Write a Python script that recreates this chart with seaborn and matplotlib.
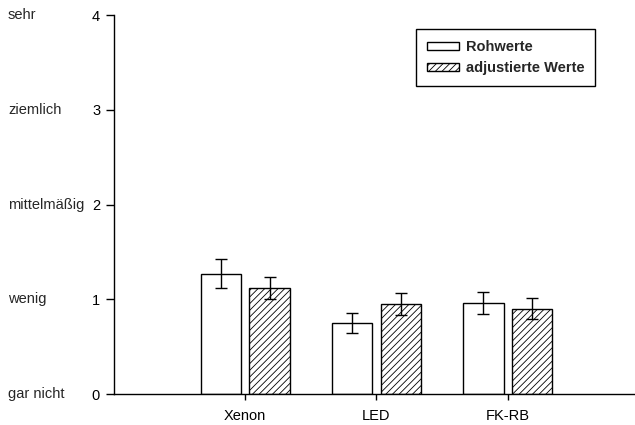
import matplotlib
matplotlib.use("Agg")
import matplotlib.pyplot as plt
import matplotlib.transforms as mtransforms
import numpy as np
import pandas as pd
import seaborn as sns

# values
lamps = ["Xenon", "LED", "FK-RB"]
series = ["Rohwerte", "adjustierte Werte"]
raw_values = [1.27, 0.75, 0.96]
raw_errors = [0.15, 0.11, 0.12]
adj_values = [1.12, 0.95, 0.90]
adj_errors = [0.12, 0.12, 0.11]
y_ticks = [0, 1, 2, 3, 4]
y_words = ["gar nicht", "wenig", "mittelmäßig", "ziemlich", "sehr"]

df = pd.DataFrame({
    "Lampe": lamps * 2,
    "Serie": [series[0]] * 3 + [series[1]] * 3,
    "Wert": raw_values + adj_values,
    "Fehler": raw_errors + adj_errors,
})

sns.set_style("ticks")
plt.rcParams["font.family"] = ["Liberation Sans", "DejaVu Sans"]
plt.rcParams["hatch.linewidth"] = 0.6
plt.rcParams["hatch.color"] = "black"

fig = plt.figure(figsize=(6.35, 4.25), dpi=100)
ax = fig.add_axes([114 / 635, 31 / 425, 521 / 635, 379 / 425])

sns.barplot(data=df, x="Lampe", y="Wert", hue="Serie", order=lamps,
            hue_order=series, palette=["white", "white"], edgecolor="black",
            linewidth=1, width=0.74, gap=0.17, errorbar=None, ax=ax)

# hatch the adjusted bars, add error bars at the bar centres
for container, s in zip(ax.containers, series):
    sub = df[df["Serie"] == s].set_index("Lampe").loc[lamps]
    xs = []
    for bar in container:
        xs.append(bar.get_x() + bar.get_width() / 2)
        if s == series[1]:
            bar.set_hatch("/////")
    ax.errorbar(xs, sub["Wert"], yerr=sub["Fehler"], fmt="none",
                ecolor="black", elinewidth=1, capsize=4, capthick=1)

ax.set_ylim(0, 4)
ax.set_xlim(-1.0, 2.97)
ax.set_yticks(y_ticks)
ax.set_xlabel("")
ax.set_ylabel("")
ax.tick_params(axis="both", labelsize=10.5, colors="black", width=1)
ax.tick_params(axis="y", length=5.5, pad=4.5)
ax.tick_params(axis="x", length=4, pad=7)
for side in ["left", "bottom"]:
    ax.spines[side].set_color("black")
    ax.spines[side].set_linewidth(1)
sns.despine(ax=ax)

trans = mtransforms.blended_transform_factory(fig.transFigure, ax.transData)
for yv, word in zip(y_ticks, y_words):
    ax.text(8 / 635, yv, word, transform=trans, ha="left", va="center",
            fontsize=10.5, clip_on=False)

leg = ax.legend(loc="upper left", bbox_to_anchor=(302 / 521, 365 / 379),
                frameon=True, fancybox=False, edgecolor="black", framealpha=1,
                prop={"weight": "bold", "size": 10.5}, handlelength=2.2,
                handleheight=0.5, borderpad=0.75, labelspacing=0.5,
                handletextpad=0.45, borderaxespad=0)
leg.get_frame().set_linewidth(1)
for h in leg.legend_handles[1:]:
    h.set_hatch("/////")

fig.savefig("out.png", dpi=100)
